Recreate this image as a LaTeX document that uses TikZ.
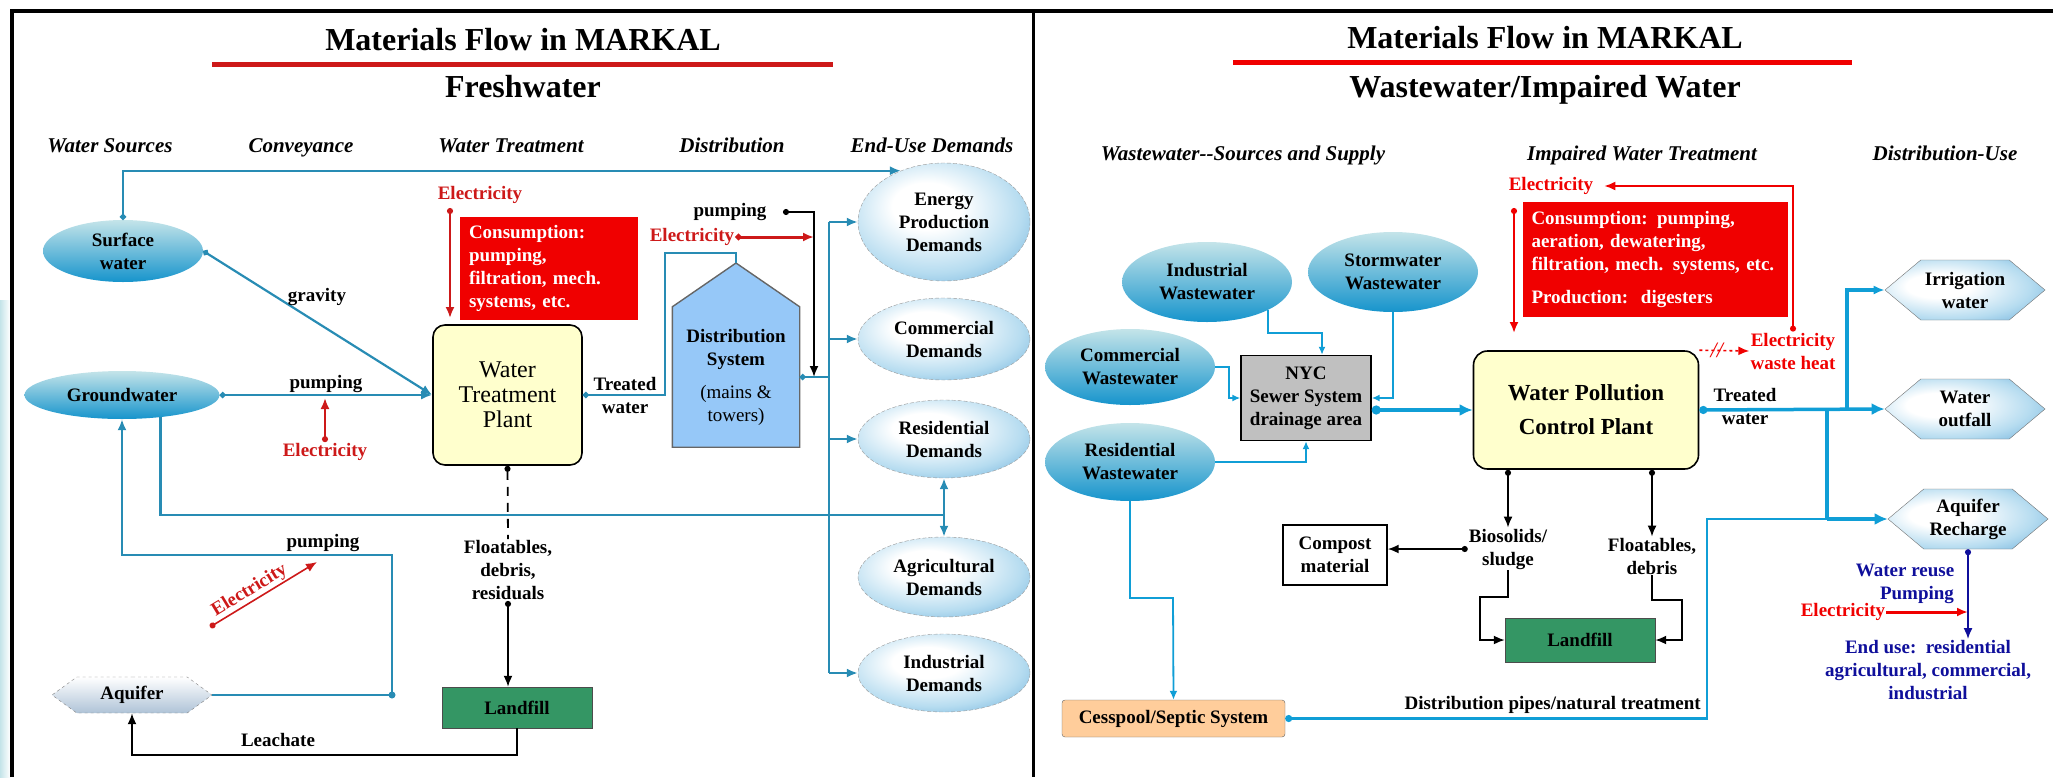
\documentclass[tikz,border=0pt]{standalone}
\usepackage{fontspec}
\setmainfont{Liberation Serif}
\usetikzlibrary{arrows.meta,calc,positioning,shapes.geometric,shapes.symbols}

\definecolor{pipeL}{RGB}{40,140,180}
\definecolor{pipeR}{RGB}{16,158,214}
\definecolor{elecR}{RGB}{240,0,0}
\definecolor{elecD}{RGB}{205,25,25}
\definecolor{reuseBlue}{RGB}{15,15,155}
\definecolor{plantY}{RGB}{255,255,205}
\definecolor{distB}{RGB}{150,200,248}
\definecolor{fillG}{RGB}{52,150,100}
\definecolor{sewerG}{RGB}{192,192,192}
\definecolor{septicO}{RGB}{255,205,155}
\definecolor{dropTop}{RGB}{196,228,233}
\definecolor{dropBot}{RGB}{22,148,204}
\definecolor{demL}{RGB}{182,220,240}
\definecolor{demOut}{RGB}{70,152,208}

\pgfdeclareradialshading{demandshade}{\pgfpoint{-6bp}{8bp}}{color(0bp)=(white); color(10bp)=(white);
  color(26bp)=(demL); color(44bp)=(demOut); color(60bp)=(demOut)}
\pgfdeclareradialshading{hexshade}{\pgfpoint{-10bp}{4bp}}{color(0bp)=(white); color(10bp)=(white);
  color(26bp)=(demL); color(46bp)=(demOut); color(60bp)=(demOut)}

\tikzset{
  txt/.style={font=\fontsize{19}{23}\selectfont\bfseries,align=center,inner sep=1pt},
  head/.style={font=\fontsize{21}{25}\selectfont\bfseries\itshape,anchor=base},
  ttl/.style={font=\fontsize{32}{36}\selectfont\bfseries,anchor=base},
  source/.style={txt,ellipse,inner sep=0pt,top color=dropTop,bottom color=dropBot},
  demand/.style={txt,ellipse,inner sep=0pt,draw=black!40,dash pattern=on 4pt off 2pt,
    shading=demandshade,minimum width=172pt},
  usehex/.style={txt,signal,signal to=east and west,signal pointer angle=80,inner sep=0pt,
    draw=black!55,shading=hexshade,minimum width=160pt,minimum height=60pt},
  consbox/.style={font=\fontsize{19}{23}\selectfont\bfseries,text=white,fill=elecR,
    align=left,inner sep=0pt},
  pipeA/.style={pipeL,line width=2.2pt},
  pipeB/.style={pipeR,line width=1.8pt},
  pipeC/.style={pipeR,line width=3.5pt},
  blk/.style={black,line width=1.8pt},
  arr/.style={-{Latex[length=11pt,width=9pt]}},
  dotarr/.style={{Circle[length=6pt]}-{Latex[length=11pt,width=9pt]}},
}

\begin{document}
\begin{tikzpicture}[x=1pt,y=-1pt]
\useasboundingbox (0,0) rectangle (2053,777);
\fill[left color=dropTop,right color=white] (0,300) rectangle (10,777);
\draw[line width=4pt] (12,777) -- (12,11) -- (2053,11);
\draw[line width=3pt] (1033,11) -- (1033,777);

% freshwater
\node[ttl] (ttlL) at (523,50) {Materials Flow in MARKAL};
\draw[elecD,line width=5pt] (212,64) -- (833,64);
\node[ttl] (subL) at (523,97) {Freshwater};
\foreach \x/\t in {110/Water Sources,301/Conveyance,511/Water Treatment,732/Distribution,932/End-Use Demands}{
  \node[head] at (\x,152) {\t};
}

\node[source,minimum width=160pt,minimum height=62pt] (surf) at (123,251) {Surface\\water};
\node[source,minimum width=195pt,minimum height=48pt] (gw) at (122,395) {Groundwater};
\node[usehex,minimum width=160pt,minimum height=36pt,signal pointer angle=72,
  draw=black!50,dashed,top color=white,bottom color={rgb,255:red,175;green,195;blue,215}] (aqL) at (132,695) {Aquifer};
\node[draw,line width=1.6pt,fill=plantY,rounded corners=12pt,minimum width=149pt,minimum height=140pt,
  font=\fontsize{24}{25}\selectfont,align=center] (wtp) at (507.5,395) {Water\\Treatment\\Plant};
\node[consbox,minimum width=178pt,minimum height=103pt,text width=160pt] (consL) at (549,268.5)
  {Consumption:\\pumping,\\filtration, mech.\\systems, etc.};
\node[txt,text=elecD] (elecT) at (480,195) {Electricity};
\node[draw=black!70,fill=fillG,txt,minimum width=150pt,minimum height=41pt] (lfL) at (517,707.5) {Landfill};
\node[txt] (floatL) at (508,570) {Floatables,\\debris,\\residuals};
\node[txt,fill=distB,minimum width=127pt,minimum height=140pt] (dist) at (736,377)
  {Distribution\\System\\[10pt]{\mdseries (mains \&}\\{\mdseries towers)}};
\coordinate (apex) at (736,263);
\fill[distB] (dist.north west) -- (apex) -- (dist.north east) -- cycle;
\draw[black!60,line width=1.4pt] (dist.south west) -- (dist.north west) -- (apex) -- (dist.north east)
  -- (dist.south east) -- cycle;
\foreach \n/\y/\h/\t in {energy/222/118/Energy\\Production\\Demands,commer/339/82/Commercial\\Demands,
  resid/439/78/Residential\\Demands,agri/577/80/Agricultural\\Demands,indus/673/78/Industrial\\Demands}{
  \node[demand,minimum height=\h pt] (\n) at (944,\y) {\t};
}

\draw[pipeA,{Circle[length=6pt]}-{Latex[length=11pt,width=9pt]}] (surf.north) |- (energy.130);
\draw[pipeA,dotarr] (surf.east) -- (wtp.west);
\node[txt] (grav) at (317,297) {gravity};
\draw[pipeA,dotarr] (gw.east) -- node[txt,above,text=black] (pumpG) {pumping} (wtp.west);
\node[txt,text=elecD] (elecP) at (325,452) {Electricity};
\draw[elecD,line width=2pt,dotarr,shorten >=3pt] (elecP.north) -- (elecP.north |- gw.east);
\coordinate (gwline) at (0,515);
\draw[pipeA] (gw.-30) |- (resid.south |- gwline);
\draw[pipeA,{Latex[length=11pt,width=9pt]}-{Latex[length=11pt,width=9pt]}] (resid.south) -- (agri.north);
\coordinate (aqc) at (392,695);
\coordinate (pl) at (392,555);
\draw[pipeA,arr] (aqL.east) -- (aqc) -- (pl) -| (gw.south);
\fill[pipeL] (aqc) circle (3.5pt);
\node[txt] (pumpA) at (323,543) {pumping};
\coordinate (ed1) at (210,627);
\coordinate (ed2) at (317,562);
\draw[elecD,line width=1.6pt,dotarr] (ed1) -- node[txt,sloped,above,pos=.42,text=elecD] (elecG) {Electricity} (ed2);
\draw[blk,arr] (lfL.south) -- ++(0,27) -| (aqL.south);
\node[txt] (leach) at (278,740) {Leachate};
\draw[blk,dash pattern=on 9pt off 7pt,{Circle[length=6pt]}-] (wtp.south) -- (floatL.north);
\draw[blk,dotarr] (floatL.south) -- (floatL.south |- lfL.north);
\draw[elecD,line width=2pt,dotarr] (450,208) -- (450,318);

\node[txt] (trL) at (625,395) {Treated\\water};
\coordinate (tw) at (665,253);
\draw[pipeA,{Circle[length=6pt]}-] (wtp.east) -| (tw) -| (apex);
\node[txt] (pumpD) at (730,212) {pumping};
\node[txt,text=elecD] (elecDs) at (692,237) {Electricity};
\coordinate (dj) at (814,377);
\coordinate (trunkx) at (829,0);
\draw[blk,dotarr] (783,212) -| (dj);
\draw[elecD,line width=3pt,dotarr] (elecDs.east) -- (elecDs.east -| dj);
\draw[pipeA,{Circle[length=6pt]}-] (dist.east) -- (dist.east -| trunkx);
\draw[pipeA] (energy.west -| trunkx) -- (indus.west -| trunkx);
\foreach \n in {energy,commer,resid,indus}{
  \draw[pipeA,arr] (\n.west -| trunkx) -- (\n.west);
}

% wastewater
\node[ttl] (ttlR) at (1545,48) {Materials Flow in MARKAL};
\draw[elecR,line width=5pt] (1233,62) -- (1852,62);
\node[ttl] (subR) at (1545,97) {Wastewater/Impaired Water};
\node[head] at (1243,160) {Wastewater-{}-Sources and Supply};
\node[head] at (1642,160) {Impaired Water Treatment};
\node[head] at (1945,160) {Distribution-Use};

\node[source,minimum width=170pt,minimum height=80pt] (indWW) at (1207,282) {Industrial\\Wastewater};
\node[source,minimum width=170pt,minimum height=80pt] (stormWW) at (1393,272) {Stormwater\\Wastewater};
\node[source,minimum width=170pt,minimum height=76pt] (comWW) at (1130,367) {Commercial\\Wastewater};
\node[source,minimum width=170pt,minimum height=78pt] (resWW) at (1130,462) {Residential\\Wastewater};
\node[txt,draw,line width=1.4pt,fill=sewerG,minimum width=130pt,minimum height=85pt] (nyc) at (1306,398)
  {NYC\\Sewer System\\drainage area};
\node[draw,line width=1.6pt,fill=plantY,rounded corners=14pt,minimum width=225pt,minimum height=118pt,
  font=\fontsize{23}{34}\selectfont\bfseries,align=center] (wpcp) at (1586,410) {Water Pollution\\Control Plant};
\node[consbox,minimum width=265pt,minimum height=115pt,text width=248pt] (consR) at (1655.5,259.5)
  {Consumption: pumping,\\aeration, dewatering,\\filtration, mech. systems, etc.\\[10pt]Production:\ \ digesters};
\node[txt,text=elecR] (elecRt) at (1551,186) {Electricity};
\node[txt,text=elecR] (wheat) at (1793,351) {Electricity\\waste heat};
\node[txt,draw,line width=1.4pt,fill=white,minimum width=104pt,minimum height=60pt] (compost) at (1335,555)
  {Compost\\material};
\node[txt] (bios) at (1508,549) {Biosolids/\\sludge};
\node[txt] (floatR) at (1652,556) {Floatables,\\debris};
\node[draw=black!70,fill=fillG,txt,minimum width=150pt,minimum height=44pt] (lfR) at (1580,640) {Landfill};
\node[txt,draw=black!60,fill=septicO,rounded corners=3pt,minimum width=223pt,minimum height=37pt] (septic)
  at (1173.5,718.5) {Cesspool/Septic System};
\node[usehex] (irrig) at (1965,290) {Irrigation\\water};
\node[usehex] (outfall) at (1965,409) {Water\\outfall};
\node[usehex] (aqRec) at (1968,519) {Aquifer\\Recharge};
\node[txt,text=reuseBlue] (reuse) at (1905,570) {Water reuse};
\node[txt,text=reuseBlue] (pumpU) at (1917,595) {Pumping};
\node[txt,text=elecR] (elecU) at (1843,612) {Electricity};
\node[txt,text=reuseBlue] (enduse) at (1928,670) {End use:\ \ residential\\agricultural, commercial,\\industrial};
\node[txt] (trR) at (1745,406) {Treated\\water};
\node[txt,anchor=east] (pipesR) at (1702,705) {Distribution pipes/natural treatment};

\coordinate (nycIn) at (1322,333);
\draw[pipeB,-{Latex[length=8pt,width=7pt]}] (indWW.-25) |- (nycIn) -- (nycIn |- nyc.north);
\draw[pipeB,-{Latex[length=8pt,width=7pt]}] (stormWW.south) |- (nyc.east);
\coordinate (cj) at (1229,398);
\draw[pipeB,-{Latex[length=8pt,width=7pt]}] (comWW.east) -| (cj) -- (nyc.west);
\draw[pipeB,-{Latex[length=8pt,width=7pt]}] (resWW.east) -| (nyc.south);
\coordinate (rj) at (1173,598);
\draw[pipeB,-{Latex[length=9pt,width=8pt]}] (resWW.south) |- (rj) -- (septic.north);
\draw[pipeC,{Circle[length=9pt]}-{Latex[length=13pt,width=12pt]}] (nyc.east |- wpcp.west) -- (wpcp.west);
\draw[elecR,line width=2pt,dotarr] (1514,208) -- (1514,333);
\draw[elecR,line width=1.6pt,{Circle[length=6pt]}-{Latex[length=11pt,width=9pt]},shorten >=10pt] (wheat.north) |- (elecRt.east);
\draw[elecR,line width=1.6pt,dashed,arr] (wpcp.north east) -- node[pos=.35,font=\fontsize{22}{22}\selectfont\itshape,text=elecR] (brk) {//} (wheat.west);
\draw[pipeC,{Circle[length=8pt]}-{Latex[length=13pt,width=12pt]}] (wpcp.east) -- (outfall.west);
\coordinate (irrj) at (1847,410);
\coordinate (aqj) at (1827,410);
\coordinate (sj) at (1707,519);
\draw[pipeC,arr] (irrj) |- (irrig.west);
\draw[pipeC] (aqj) -- (aqj |- aqRec.west);
\draw[pipeB,line width=2.4pt,{Circle[length=7pt]}-] (septic.east) -| (sj) -- (aqj |- aqRec.west);
\draw[pipeC,-{Latex[length=13pt,width=12pt]}] (aqj |- aqRec.west) -- (aqRec.west);
\draw[blk,dotarr] (wpcp.south -| bios) -- (bios.north);
\draw[blk,dotarr] (wpcp.south -| floatR) -- (floatR.north);
\draw[blk,dotarr] (bios.west) -- (bios.west -| compost.east);
\coordinate (sl) at (1480,597);
\coordinate (fl) at (1682,600);
\draw[blk,arr] (bios.south) |- (sl) |- (lfR.west);
\draw[blk,arr] (floatR.south) |- (fl) |- (lfR.east);
\draw[reuseBlue,line width=1.8pt,dotarr] (aqRec.south) -- (aqRec.south |- enduse.north);
\draw[elecR,line width=3pt,arr] (elecU.east) -- (elecU.east -| aqRec.south);
\end{tikzpicture}
\end{document}
